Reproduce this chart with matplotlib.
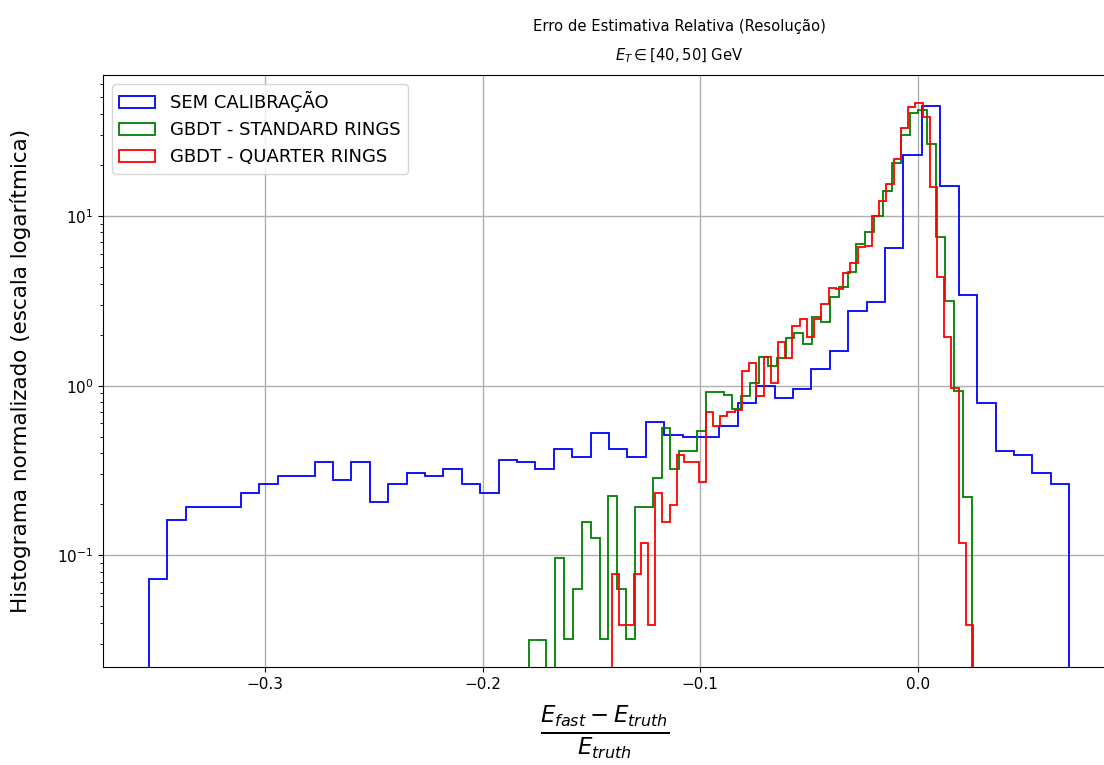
import numpy as np
import matplotlib
matplotlib.use("Agg")
import matplotlib.pyplot as plt

# histogram ranges (min, max of each sample), 50 bins each
BLUE_RANGE = (-0.3533, 0.0695)
GREEN_RANGE = (-0.1788, 0.0247)
RED_RANGE = (-0.1406, 0.0254)
N_BINS = 50

LABELS = ["SEM CALIBRAÇÃO", "GBDT - STANDARD RINGS", "GBDT - QUARTER RINGS"]

# normalized bin heights
sem_calib = [0.073, 0.162, 0.193, 0.193, 0.193, 0.233, 0.264, 0.294, 0.294, 0.354,
             0.277, 0.354, 0.206, 0.264, 0.306, 0.292, 0.323, 0.264, 0.233, 0.363,
             0.355, 0.323, 0.424, 0.382, 0.524, 0.424, 0.382, 0.614, 0.514, 0.50,
             0.50, 0.581, 0.794, 1.0, 0.843, 0.95, 1.25, 1.60, 2.77, 3.13,
             6.5, 22.9, 44.7, 15.0, 3.42, 0.787, 0.412, 0.392, 0.306, 0.264]

standard_rings = [0.0316, 0.0316, 0.0, 0.0962, 0.032, 0.063, 0.157, 0.126, 0.032, 0.223,
                  0.063, 0.032, 0.193, 0.193, 0.285, 0.566, 0.323, 0.412, 0.412, 0.539,
                  0.92, 0.92, 0.88, 0.726, 0.87, 1.04, 1.48, 1.31, 1.45, 1.90,
                  2.04, 1.76, 2.55, 2.37, 3.35, 3.83, 4.70, 6.84, 8.08, 10.0,
                  14.0, 20.6, 30.0, 40.3, 42.1, 26.5, 7.55, 3.17, 0.934, 0.222]

quarter_rings = [0.0774, 0.0387, 0.0387, 0.0774, 0.118, 0.0387, 0.232, 0.157, 0.197, 0.391,
                 0.354, 0.354, 0.27, 0.703, 0.581, 0.663, 0.703, 0.72, 1.22, 1.37,
                 0.87, 1.48, 1.04, 1.82, 1.45, 2.25, 2.47, 1.93, 2.46, 3.02,
                 3.75, 3.70, 4.63, 5.31, 6.59, 6.68, 10.0, 12.3, 15.4, 21.7,
                 33.1, 44.1, 46.5, 38.2, 14.9, 4.39, 1.94, 0.966, 0.118, 0.0389]

SERIES = [
    (sem_calib, BLUE_RANGE, "blue"),
    (standard_rings, GREEN_RANGE, "green"),
    (quarter_rings, RED_RANGE, "red"),
]

fig = plt.figure(figsize=(11.04, 7.65), dpi=100)
ax = fig.add_axes([0.0933, 0.1277, 0.9167, 0.7743])

for (vals, rng, color), label in zip(SERIES, LABELS):
    edges = np.linspace(rng[0], rng[1], N_BINS + 1)
    ax.hist(edges[:-1], bins=edges, weights=vals, histtype="step",
            color=color, linewidth=1.3, label=label, log=True)

ax.set_xlim(-0.3744, 0.0906)
ax.set_ylim(0.0219, 67.8)
ax.grid(True, color="#b0b0b0", linewidth=1.0)
ax.tick_params(axis="both", labelsize=11)

ax.set_ylabel("Histograma normalizado (escala logarítmica)", fontsize=15.5)
ax.yaxis.set_label_coords(-0.071, 0.5)
ax.set_xlabel(r"$\frac{E_{fast}-E_{truth}}{E_{truth}}$", fontsize=23.5)
ax.xaxis.set_label_coords(0.496, -0.062)

fig.text(679 / 1104, 1 - 26 / 765, "Erro de Estimativa Relativa (Resolução)",
         ha="center", va="center", fontsize=10.6)
fig.text(679 / 1104, 1 - 56 / 765, r"$E_T \in [40, 50]$ GeV",
         ha="center", va="center", fontsize=10.6)

ax.legend(loc="upper left", fontsize=13)

fig.savefig("out.png", dpi=100)
print("saved out.png")
